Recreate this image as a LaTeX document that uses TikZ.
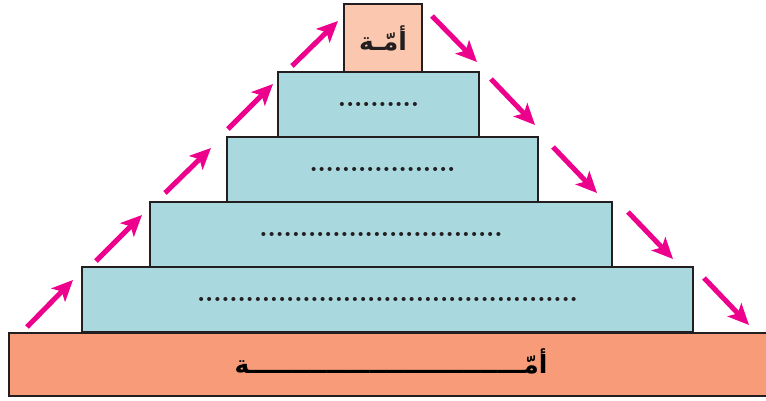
\documentclass[tikz,border=0pt]{standalone}
\usepackage{fontspec}
\usetikzlibrary{arrows.meta}
\newfontfamily\arabicfont[Script=Arabic]{DejaVu Sans}
\TeXXeTstate=1
\definecolor{baseorange}{HTML}{F79B78}
\definecolor{toppeach}{HTML}{FBC8AF}
\definecolor{layerteal}{HTML}{A9D8DE}
\definecolor{arrowpink}{HTML}{EC008C}
\definecolor{edgegray}{HTML}{231F20}
\newcommand\dotrow[1]{\foreach \i in {1,...,#1}{\makebox[8.1pt]{.}}}
\tikzset{
  layerbox/.style={draw=edgegray, line width=2.6pt, fill=layerteal, inner sep=0pt,
    font=\fontsize{28}{28}\selectfont\bfseries, text=edgegray},
  flow/.style={draw=arrowpink, line width=5pt,
    -{Stealth[length=21pt,width=19pt,inset=5pt]}},
}
\begin{document}
\begin{tikzpicture}[x=1pt,y=-1pt]
\useasboundingbox (0,0) rectangle (766,400);
\clip (0,0) rectangle (766,400);
% base
\node (base) [layerbox, fill=baseorange, minimum width=782pt, minimum height=63pt]
  at (400,364.5) {};
\node (basetext) at (391,361) {\arabicfont\bfseries\fontsize{25}{25}\selectfont\beginR أمّــــــــــــــــــــــــــــــــة\endR};
% layers
\node (l4) [layerbox, minimum width=611pt, minimum height=65pt] at (387.5,299.5) {\dotrow{47}};
\node (l3) [layerbox, minimum width=462pt, minimum height=65pt] at (381,234.5) {\dotrow{30}};
\node (l2) [layerbox, minimum width=311pt, minimum height=65pt] at (382.5,169.5) {\dotrow{18}};
\node (l1) [layerbox, minimum width=201pt, minimum height=65pt] at (378.5,104.5) {\dotrow{10}};
\node (top) [layerbox, fill=toppeach, minimum width=78pt, minimum height=68pt] at (383,38)
  {\arabicfont\bfseries\fontsize{25}{25}\selectfont\beginR أمّـة\endR};
% arrow end points
\coordinate (a5s) at (27,327);  \coordinate (a5e) at (73,280);
\coordinate (a4s) at (96,261);  \coordinate (a4e) at (142,215);
\coordinate (a3s) at (165,193); \coordinate (a3e) at (211,148);
\coordinate (a2s) at (228,129); \coordinate (a2e) at (273,84);
\coordinate (a1s) at (292,66);  \coordinate (a1e) at (338,21);
\coordinate (b1s) at (432,16);  \coordinate (b1e) at (477,62);
\coordinate (b2s) at (491,79);  \coordinate (b2e) at (535,125);
\coordinate (b3s) at (553,147); \coordinate (b3e) at (597,193);
\coordinate (b4s) at (628,212); \coordinate (b4e) at (673,259);
\coordinate (b5s) at (704,278); \coordinate (b5e) at (749,325);
\foreach \n in {a1,a2,a3,a4,a5,b1,b2,b3,b4,b5}
  \draw[flow] (\n s) -- (\n e);
\end{tikzpicture}
\end{document}
